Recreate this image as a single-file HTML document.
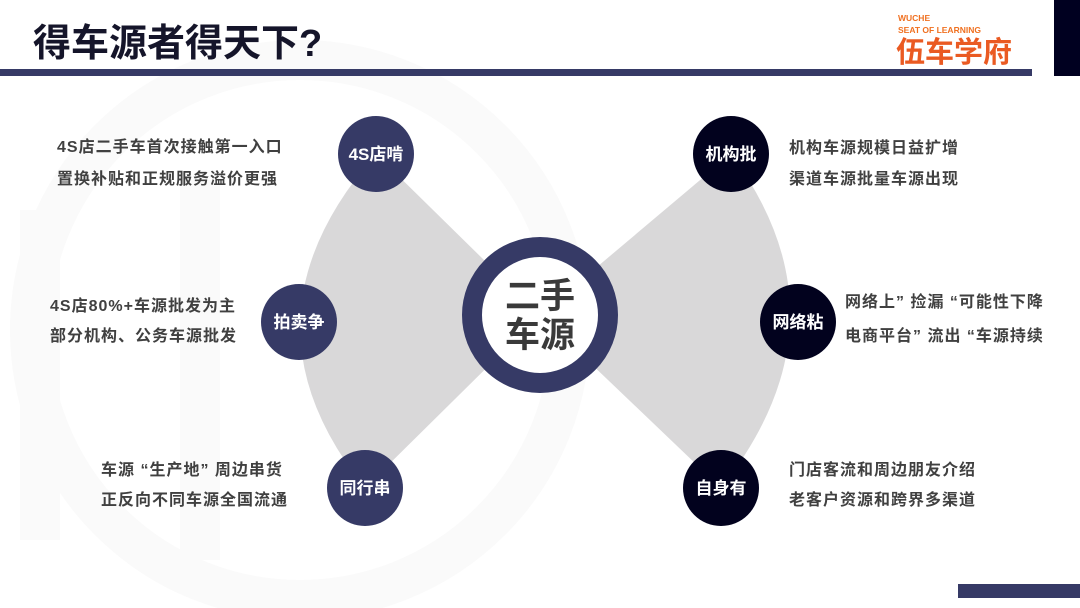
<!DOCTYPE html>
<html><head><meta charset="utf-8"><style>
html,body{margin:0;padding:0;background:#fff;}
svg{display:block;}
</style></head><body>
<svg width="1080" height="608" viewBox="0 0 1080 608" xmlns="http://www.w3.org/2000/svg" font-family="'Liberation Sans','Noto Sans CJK SC',sans-serif">
<rect width="1080" height="608" fill="#fff"/>
<!-- faint watermark -->
<g fill="none" stroke="#fafafa" stroke-width="40">
<circle cx="300" cy="330" r="270"/>
<path d="M40 210 L40 540 M200 180 L200 560"/>
</g>
<!-- header -->
<text x="33" y="56" font-size="38" font-weight="bold" fill="#15152a">得车源者得天下?</text>
<rect x="0" y="69" width="1032" height="7" fill="#363a66"/>
<rect x="1054" y="0" width="26" height="76" fill="#000020"/>
<text x="898" y="21" font-size="8.5" font-weight="bold" fill="#f07020">WUCHE</text>
<text x="898" y="33" font-size="8.5" font-weight="bold" fill="#f07020">SEAT OF LEARNING</text>
<text x="896" y="62" font-size="29" font-weight="bold" fill="#ea5a22">伍车学府</text>
<rect x="958" y="584" width="122" height="14" fill="#363a66"/>
<!-- gray bows -->
<path d="M376 154 L540 315 L365 488 Q230 320 376 154 Z" fill="#d9d8d9"/>
<path d="M731 154 L540 315 L721 488 Q854 320 731 154 Z" fill="#d9d8d9"/>
<!-- center -->
<circle cx="540" cy="315" r="68" fill="#fff" stroke="#363a66" stroke-width="20"/>
<text x="540" y="308" font-size="35" font-weight="bold" fill="#3a3a3a" text-anchor="middle">二手</text>
<text x="540" y="347" font-size="35" font-weight="bold" fill="#3a3a3a" text-anchor="middle">车源</text>
<!-- nodes -->
<g font-size="17" font-weight="bold" fill="#fff" text-anchor="middle">
<circle cx="376" cy="154" r="38" fill="#363a66"/>
<text x="376" y="160">4S店啃</text>
<circle cx="299" cy="322" r="38" fill="#363a66"/>
<text x="299" y="328">拍卖争</text>
<circle cx="365" cy="488" r="38" fill="#363a66"/>
<text x="365" y="494">同行串</text>
<circle cx="731" cy="154" r="38" fill="#02021e"/>
<text x="731" y="160">机构批</text>
<circle cx="798" cy="322" r="38" fill="#02021e"/>
<text x="798" y="328">网络粘</text>
<circle cx="721" cy="488" r="38" fill="#02021e"/>
<text x="721" y="494">自身有</text>
</g>
<g font-size="16" font-weight="bold" fill="#404040" letter-spacing="1">
<text x="57" y="152">4S店二手车首次接触第一入口</text>
<text x="57" y="184">置换补贴和正规服务溢价更强</text>
<text x="50" y="311">4S店80%+车源批发为主</text>
<text x="50" y="341">部分机构、公务车源批发</text>
<text x="101" y="475">车源 “生产地” 周边串货</text>
<text x="101" y="505">正反向不同车源全国流通</text>
<text x="789" y="153">机构车源规模日益扩增</text>
<text x="789" y="184">渠道车源批量车源出现</text>
<text x="845" y="307">网络上” 捡漏 “可能性下降</text>
<text x="845" y="341">电商平台” 流出 “车源持续</text>
<text x="789" y="475">门店客流和周边朋友介绍</text>
<text x="789" y="505">老客户资源和跨界多渠道</text>
</g>
</svg>
</body></html>
